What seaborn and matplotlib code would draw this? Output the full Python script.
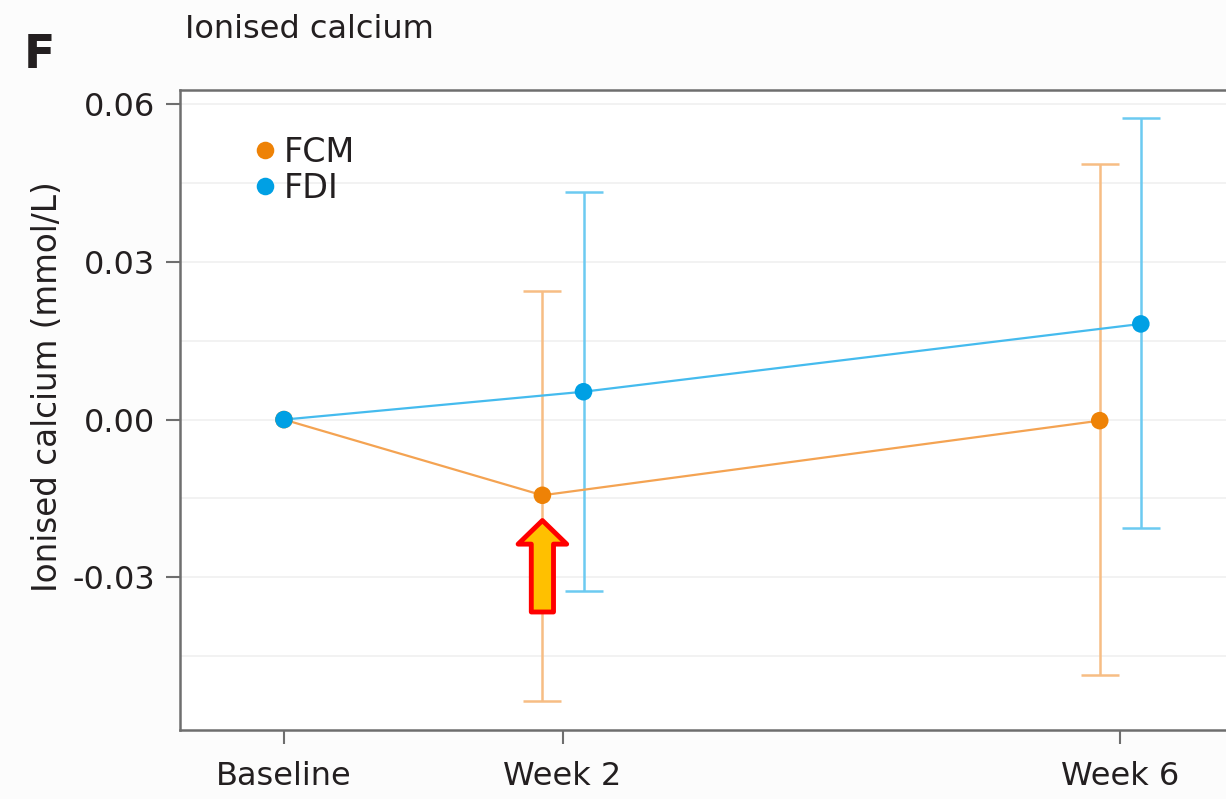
import numpy as np
import pandas as pd
import matplotlib
matplotlib.use("Agg")
import matplotlib.pyplot as plt
import seaborn as sns

# ---- data ----
timepoints = ["Baseline", "Week 2", "Week 6"]
weeks = [0, 2, 6]
groups = ["FCM", "FDI"]
fcm_mean = [0.0, -0.0144, -0.0002]
fcm_lower = [np.nan, -0.0535, -0.0486]
fcm_upper = [np.nan, 0.0245, 0.0486]
fdi_mean = [0.0, 0.0053, 0.0182]
fdi_lower = [np.nan, -0.0327, -0.0207]
fdi_upper = [np.nan, 0.0433, 0.0573]

# ---- style ----
sns.set_theme(style="white")
plt.rcParams["font.family"] = ["DejaVu Sans"]
text_col = "#231f20"
dodge = {"FCM": -0.145, "FDI": 0.15}
marker_col = {"FCM": "#EE8206", "FDI": "#00A0E4"}
line_col = {"FCM": "#F4A352", "FDI": "#45BBEE"}
err_col = {"FCM": "#F7BD84", "FDI": "#6CCAF1"}

rows = []
for g, m, lo, hi in [("FCM", fcm_mean, fcm_lower, fcm_upper),
                     ("FDI", fdi_mean, fdi_lower, fdi_upper)]:
    for i, (t, w) in enumerate(zip(timepoints, weeks)):
        off = dodge[g] if w != 0 else 0.0
        rows.append(dict(group=g, time=t, week=w, x=w + off,
                         mean=m[i], lower=lo[i], upper=hi[i]))
df = pd.DataFrame(rows)

fig = plt.figure(figsize=(12.26, 7.99), dpi=100)
fig.patch.set_facecolor("#FCFCFC")
ax = fig.add_axes([180 / 1226, 1 - 730 / 799, (1230 - 180) / 1226, (730 - 90) / 799])
ax.set_facecolor("white")

# error bars
for g in groups:
    sub = df[(df.group == g) & df.lower.notna()]
    ax.errorbar(sub.x, sub["mean"],
                yerr=[sub["mean"] - sub.lower, sub.upper - sub["mean"]],
                fmt="none", ecolor=err_col[g], elinewidth=1.8,
                capsize=13.5, capthick=1.8, zorder=2)

# lines
sns.lineplot(data=df, x="x", y="mean", hue="group", palette=line_col,
             linewidth=1.6, legend=False, ax=ax, sort=True, errorbar=None,
             zorder=3)
# markers
sns.scatterplot(data=df, x="x", y="mean", hue="group", palette=marker_col,
                s=160, linewidth=0, ax=ax, zorder=4, legend=True)

# arrow annotation pointing at FCM week 2
fx = df[(df.group == "FCM") & (df.week == 2)]
px, py = float(fx.x.iloc[0]), float(fx["mean"].iloc[0])
ax.annotate("", xy=(px, py - 0.0048), xytext=(px, py - 0.0222),
            arrowprops=dict(arrowstyle="simple,head_length=1.7,head_width=3.5,tail_width=1.6",
                            fc="#FFC000", ec="#FF0000", lw=3.5,
                            shrinkA=0, shrinkB=0, mutation_scale=10),
            zorder=6)

# axes limits & ticks
ax.set_xlim(-0.746, 6.79)
ax.set_ylim(-0.05905, 0.0627)
ax.set_xticks(weeks)
ax.set_xticklabels(timepoints)
yt = [-0.03, 0.0, 0.03, 0.06]
ax.set_yticks(yt)
ax.set_yticklabels([f"{v:.2f}" for v in yt])
ax.set_yticks([-0.045, -0.015, 0.015, 0.045], minor=True)
ax.grid(True, which="both", axis="y", color="#F0F0F0", linewidth=1.2)
ax.set_axisbelow(True)
ax.tick_params(axis="both", which="major", labelsize=23, colors="#6E6E6E",
               labelcolor=text_col, length=10, width=1.5, left=True, bottom=True)
ax.tick_params(axis="y", pad=8)
ax.tick_params(axis="x", pad=12)
ax.tick_params(which="minor", length=0)
for s in ax.spines.values():
    s.set_color("#6E6E6E")
    s.set_linewidth(1.8)

ax.set_xlabel("")
ax.set_ylabel("Ionised calcium (mmol/L)", fontsize=23.5, color=text_col)
ax.yaxis.set_label_coords(-0.1105, 0.536)

# legend
h, l = ax.get_legend_handles_labels()
leg = ax.legend(h, l, loc="upper left", bbox_to_anchor=(0.054, 0.949), frameon=False,
                fontsize=24, handletextpad=0.1, labelspacing=0.08,
                handlelength=0.9, borderaxespad=0)
for t in leg.get_texts():
    t.set_color(text_col)

fig.text(185 / 1226, 1 - 30 / 799, "Ionised calcium", fontsize=23, color=text_col,
         va="center", ha="left")
fig.text(24 / 1226, 1 - 55 / 799, "F", fontsize=33, fontweight="bold",
         color=text_col, va="center", ha="left")

fig.savefig("out.png", dpi=100, facecolor=fig.get_facecolor())
